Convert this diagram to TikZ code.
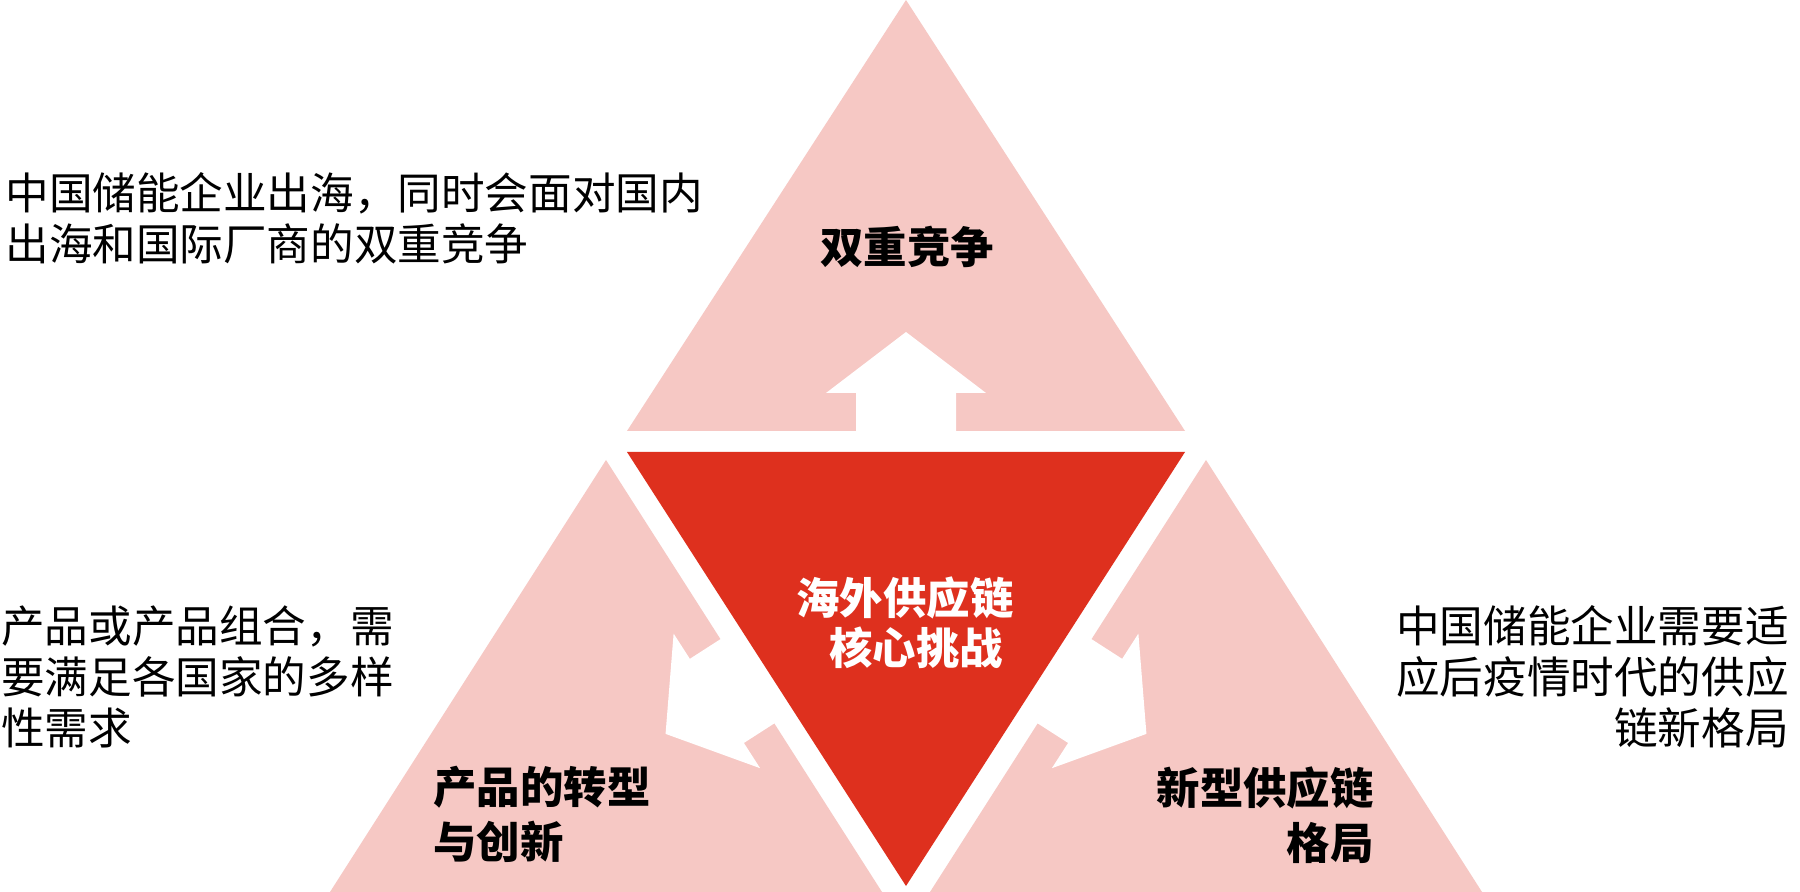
\documentclass[tikz,border=0pt]{standalone}
\usepackage{fontspec}
\newfontfamily\cjk{Noto Sans CJK SC}
\definecolor{pinkfill}{RGB}{246,200,196}
\definecolor{redfill}{RGB}{222,48,30}
\tikzset{
  pinktri/.style={fill=pinkfill},
  redtri/.style={fill=redfill},
  desc/.style={inner sep=0pt, font=\cjk\fontsize{21.8pt}{25.6pt}\selectfont},
  title/.style={inner sep=0pt, font=\cjk\bfseries\fontsize{21.7pt}{27.5pt}\selectfont},
  centertitle/.style={inner sep=0pt, text=white, font=\cjk\bfseries\fontsize{21.7pt}{25pt}\selectfont},
  blockarrow/.pic={\fill[white] (-50,-3) -- (-50,-59) -- (-80,-59) -- (0,-120) -- (80,-59) -- (50,-59) -- (50,-3) -- cycle;}
}
\begin{document}
\begin{tikzpicture}[x=0.5pt,y=-0.5pt]
\useasboundingbox (0,0) rectangle (1800,892);
\fill[white] (0,0) rectangle (1800,892);
% triangles
\fill[pinktri] (906,0) -- (627,431) -- (1185,431) -- cycle;
\fill[redtri] (627,452) -- (1185,452) -- (906,886) -- cycle;
\fill[pinktri] (606,460) -- (330,892) -- (882,892) -- cycle;
\fill[pinktri] (1206,460) -- (930,892) -- (1482,892) -- cycle;
% block arrows
\path (906,452) pic{blockarrow};
\path (766.5,669) pic[rotate=122.73]{blockarrow};
\path (1045.5,669) pic[rotate=-122.73]{blockarrow};
% texts
\node[desc, anchor=north west, align=left] (t1) at (5,172) {中国储能企业出海，同时会面对国内\\出海和国际厂商的双重竞争};
\node[desc, anchor=north west, align=left] (t2) at (1,605) {产品或产品组合，需\\要满足各国家的多样\\性需求};
\node[desc, anchor=north east, align=right] (t3) at (1789,605) {中国储能企业需要适\\应后疫情时代的供应\\链新格局};
\node[title] (h1) at (907,247) {双重竞争};
\node[centertitle, align=center] (h2) at (905,623) {海外供应链\\\hspace*{11pt}核心挑战};
\node[title, anchor=north west, align=left] (h3) at (433,766) {产品的转型\\与创新};
\node[title, anchor=north east, align=right] (h4) at (1374,766) {新型供应链\\格局};
\end{tikzpicture}
\end{document}
